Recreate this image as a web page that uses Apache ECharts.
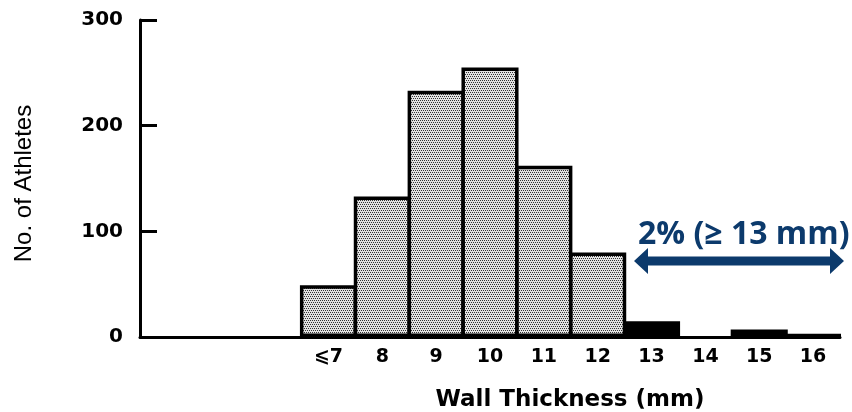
<!DOCTYPE html>
<html>
<head>
<meta charset="utf-8">
<script src="https://cdn.jsdelivr.net/npm/echarts@6/dist/echarts.min.js"></script>
<style>
html,body{margin:0;padding:0;background:#fff;}
#chart{width:852px;height:412px;}
</style>
</head>
<body>
<div id="chart"></div>
<script>
// ---- data ----
var categories = ['', '', '', '\u2A7D7', '8', '9', '10', '11', '12', '13', '14', '15', '16'];
var athletesBelow13 = [null, null, null, 49, 133, 233, 255, 162, 80, null, null, null, null];
var athletes13Plus = [null, null, null, null, null, null, null, null, null, 15, 0, 7, 3];
var yTicks = [0, 100, 200, 300];
var xTitle = 'Wall Thickness (mm)';
var yTitle = 'No. of Athletes';
var note = '2% (\u2265 13 mm)';

// stipple pattern
var pc = document.createElement('canvas');
pc.width = 4; pc.height = 4;
var pctx = pc.getContext('2d');
pctx.fillStyle = '#e2e2e2';
pctx.fillRect(0, 0, 4, 4);
pctx.fillStyle = '#333333';
[[0,0],[2,0],[1,2],[3,2]].forEach(function(p){ pctx.fillRect(p[0], p[1], 1, 1); });

var chart = echarts.init(document.getElementById('chart'), null, {renderer: 'canvas'});
var navy = '#0c3a6c';
chart.setOption({
  animation: false,
  backgroundColor: '#fff',
  grid: {left: 140, right: 12, top: 20, bottom: 75, containLabel: false, outerBoundsMode: 'none'},
  xAxis: {
    type: 'category',
    data: categories,
    boundaryGap: true,
    axisLine: {show: true, lineStyle: {color: '#000', width: 3}},
    axisTick: {show: false},
    axisLabel: {interval: 0, margin: 11, color: '#000', fontFamily: 'DejaVu Sans', fontWeight: 'bold', fontSize: 19},
    name: xTitle,
    nameLocation: 'middle',
    nameGap: 52,
    nameTextStyle: {color: '#000', fontFamily: 'DejaVu Sans', fontWeight: 'bold', fontSize: 23, padding: [0, 0, 0, 160]}
  },
  yAxis: {
    type: 'value',
    min: yTicks[0],
    max: yTicks[yTicks.length - 1],
    interval: yTicks[1] - yTicks[0],
    splitLine: {show: false},
    axisLine: {show: true, lineStyle: {color: '#000', width: 3}},
    axisTick: {show: true, inside: true, length: 17, lineStyle: {color: '#000', width: 3}},
    axisLabel: {margin: 17, color: '#000', fontFamily: 'DejaVu Sans', fontWeight: 'bold', fontSize: 20},
    name: yTitle,
    nameLocation: 'middle',
    nameRotate: 90,
    nameGap: 104,
    nameTextStyle: {color: '#000', fontFamily: 'Liberation Sans', fontSize: 24, padding: [0, 10, 0, 0]}
  },
  series: [
    {
      type: 'bar',
      data: athletesBelow13,
      barWidth: '106%',
      barGap: '-100%',
      itemStyle: {color: {image: pc, repeat: 'repeat'}, borderColor: '#000', borderWidth: 3.5}
    },
    {
      type: 'bar',
      data: athletes13Plus,
      barWidth: '106%',
      barGap: '-100%',
      itemStyle: {color: '#000', borderColor: '#000', borderWidth: 2}
    }
  ],
  graphic: [
    {
      type: 'text',
      left: 638, top: 219,
      style: {text: note, fill: navy, font: 'bold 32px "Open Sans"'}
    },
    {
      type: 'polygon',
      shape: {points: [[634,261],[648,248],[648,256.5],[830,256.5],[830,248],[844,261],[830,274],[830,265.5],[648,265.5],[648,274]]},
      style: {fill: navy}
    }
  ]
});
</script>
</body>
</html>
